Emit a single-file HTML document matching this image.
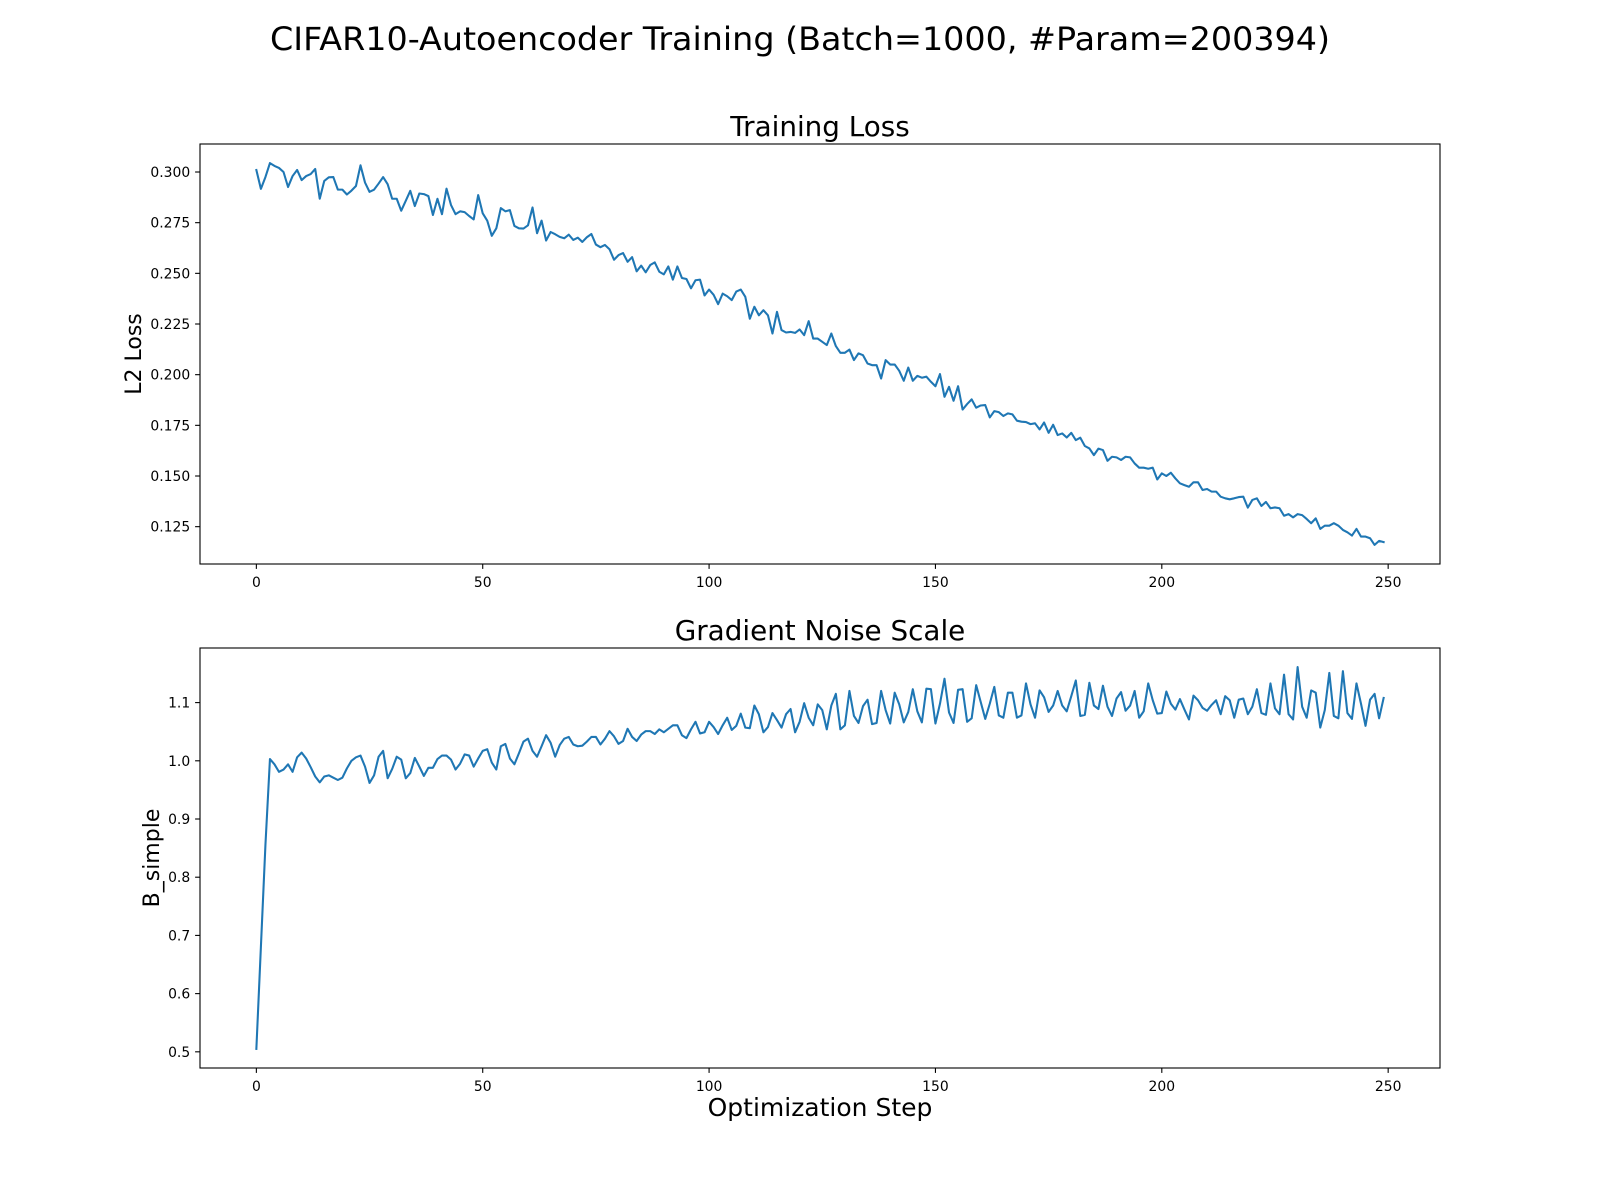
<!DOCTYPE html>
<html><head><meta charset="utf-8"><style>
html,body{margin:0;padding:0;background:#fff}
svg{display:block;font-family:"DejaVu Sans","Liberation Sans",sans-serif}
</style></head><body>
<svg id="fig" width="1600" height="1200" viewBox="0 0 1600 1200" xmlns="http://www.w3.org/2000/svg">
<rect width="1600" height="1200" fill="#fff"/>
<text x="800" y="50" font-size="32" text-anchor="middle" textLength="1060" lengthAdjust="spacingAndGlyphs">CIFAR10-Autoencoder Training (Batch=1000, #Param=200394)</text>
<g id="ax1"></g>
<g id="ax2"></g>
</svg>
<script>
const lossValues=[0.301,0.2917,0.2975,0.3044,0.303,0.302,0.300,0.2926,0.298,0.301,
0.296,0.298,0.299,0.3015,0.2868,0.2956,0.2974,0.2975,0.2913,0.2913,
0.2889,0.2908,0.2931,0.3033,0.2948,0.2902,0.2913,0.2943,0.2975,0.294,
0.2868,0.2868,0.2809,0.2858,0.2907,0.2832,0.2894,0.2891,0.2881,0.2788,
0.2868,0.2792,0.2918,0.2837,0.2792,0.2806,0.2802,0.2783,0.2766,0.2886,
0.2796,0.276,0.2685,0.2722,0.2822,0.2806,0.2812,0.2734,0.2722,0.2721,
0.2737,0.2825,0.2698,0.276,0.2662,0.2704,0.2693,0.268,0.2673,0.2691,
0.2665,0.2676,0.2655,0.2678,0.2694,0.2642,0.2629,0.264,0.2619,0.2567,
0.259,0.26,0.2557,0.258,0.251,0.2538,0.2505,0.2541,0.2554,0.2508,
0.2495,0.2534,0.2469,0.2534,0.2477,0.2472,0.2426,0.2466,0.2469,0.2391,
0.242,0.2394,0.2348,0.24,0.2387,0.2368,0.241,0.242,0.2384,0.2276,
0.2335,0.2293,0.2318,0.2293,0.2203,0.2310,0.2220,0.2208,0.2211,
0.2206,0.2223,0.2195,0.2264,0.2178,0.2178,0.2162,0.2146,0.2203,0.2141,
0.2108,0.2108,0.2124,0.2072,0.2105,0.2096,0.2055,0.2047,0.2047,0.1981,
0.2072,0.2050,0.2050,0.2019,0.1970,0.2035,0.1970,0.1994,0.1985,0.1990,
0.1965,0.1943,0.2003,0.1891,0.1940,0.1871,0.1943,0.1828,0.1855,0.1878,
0.1837,0.1848,0.1850,0.1789,0.1820,0.1815,0.1796,0.1809,0.1804,0.1773,
0.1768,0.1766,0.1756,0.1760,0.1730,0.1764,0.1713,0.1753,0.1702,0.1710,
0.1690,0.1713,0.1677,0.1689,0.1648,0.1636,0.1603,0.1635,0.1628,0.1575,
0.1595,0.1592,0.1579,0.1595,0.1592,0.1562,0.1541,0.1541,0.1536,0.1541,
0.1483,0.1513,0.1500,0.1516,0.1488,0.1464,0.1455,0.1447,0.1469,0.1469,
0.1431,0.1436,0.1423,0.1423,0.1398,0.1390,0.1385,0.1390,0.1396,0.1398,
0.1344,0.1382,0.1390,0.1352,0.1372,0.1341,0.1345,0.1341,0.1304,
0.1312,0.1296,0.1312,0.1307,0.1288,0.1267,0.1291,0.1239,0.1255,0.1255,
0.1267,0.1255,0.1234,0.1222,0.1206,0.1239,0.1201,0.1201,0.1193,0.1160,
0.1180,0.1174];
const bValues=[0.505,0.68,0.855,1.003,0.994,0.981,0.985,0.994,0.981,1.006,
1.014,1.004,0.989,0.973,0.963,0.973,0.975,0.971,0.967,0.971,
0.987,1.0,1.006,1.009,0.990,0.962,0.975,1.007,1.017,0.970,
0.986,1.007,1.002,0.970,0.979,1.005,0.990,0.974,0.988,0.988,
1.003,1.009,1.009,1.002,0.985,0.995,1.011,1.009,0.990,1.004,
1.017,1.020,0.997,0.985,1.025,1.029,1.004,0.994,1.013,1.033,
1.038,1.017,1.007,1.025,1.044,1.031,1.007,1.027,1.038,1.041,
1.028,1.025,1.026,1.033,1.041,1.041,1.028,1.038,1.051,1.042,
1.029,1.034,1.055,1.041,1.034,1.045,1.051,1.051,1.046,1.054,
1.049,1.055,1.061,1.061,1.044,1.039,1.054,1.067,1.047,1.049,
1.067,1.058,1.046,1.061,1.074,1.053,1.060,1.081,1.057,1.056,
1.095,1.080,1.049,1.058,1.082,1.070,1.057,1.080,1.089,1.049,
1.067,1.099,1.074,1.061,1.097,1.087,1.054,1.095,1.115,1.054,
1.061,1.120,1.077,1.065,1.094,1.105,1.063,1.065,1.120,1.087,
1.064,1.117,1.097,1.066,1.084,1.123,1.085,1.066,1.124,1.123,
1.064,1.098,1.141,1.083,1.065,1.122,1.123,1.067,1.073,1.130,
1.101,1.072,1.098,1.127,1.078,1.074,1.117,1.117,1.074,1.078,
1.133,1.097,1.074,1.121,1.109,1.084,1.095,1.120,1.095,1.085,
1.111,1.138,1.077,1.079,1.134,1.095,1.089,1.129,1.093,1.077,
1.107,1.118,1.086,1.095,1.120,1.074,1.085,1.133,1.104,1.081,
1.082,1.119,1.098,1.088,1.106,1.088,1.071,1.112,1.104,1.091,
1.086,1.096,1.104,1.080,1.111,1.104,1.074,1.105,1.107,1.080,
1.093,1.123,1.082,1.079,1.133,1.090,1.080,1.148,1.080,1.071,
1.161,1.093,1.074,1.121,1.117,1.057,1.087,1.151,1.077,1.073,
1.154,1.082,1.072,1.133,1.098,1.060,1.105,1.115,1.073,1.108];
const xTicks=[0,50,100,150,200,250];
const lossTicks=[0.125,0.150,0.175,0.200,0.225,0.250,0.275,0.300];
const lossTickLabels=["0.125","0.150","0.175","0.200","0.225","0.250","0.275","0.300"];
const bTicks=[0.5,0.6,0.7,0.8,0.9,1.0,1.1];
const bTickLabels=["0.5","0.6","0.7","0.8","0.9","1.0","1.1"];

const NS="http://www.w3.org/2000/svg";
function mk(tag,attrs,parent){const e=document.createElementNS(NS,tag);for(const k in attrs)e.setAttribute(k,attrs[k]);parent.appendChild(e);return e;}

function drawAxes(g,opt){
  const L=200,R=1440,T=opt.top,B=opt.top+420;
  const n=opt.values.length;
  const xmin=-0.05*(n-1),xmax=(n-1)*1.05;
  let vmin=Math.min(...opt.values),vmax=Math.max(...opt.values);
  const pad=(vmax-vmin)*0.05;const ymin=vmin-pad,ymax=vmax+pad;
  const xs=v=>L+(v-xmin)/(xmax-xmin)*(R-L);
  const ys=v=>B-(v-ymin)/(ymax-ymin)*(B-T);
  let d="";opt.values.forEach((v,i)=>{d+=(i?"L":"M")+xs(i).toFixed(2)+","+ys(v).toFixed(2);});
  const p=mk("path",{d:d,fill:"none",stroke:"#1f77b4","stroke-width":"2.08","stroke-linejoin":"round","stroke-linecap":"square"},g);
  
  
  const fr=mk("rect",{x:L,y:T,width:R-L,height:B-T,fill:"none",stroke:"#000","stroke-width":"1.1"},g);
  
  
  xTicks.forEach(t=>{
    const x=xs(t);
    const tk=mk("line",{x1:x,x2:x,y1:B,y2:B+4.9,stroke:"#000","stroke-width":"1.1"},g);
    
    
    const tx=mk("text",{x:x,y:B+23,"font-size":"13.9","text-anchor":"middle"},g);
    tx.textContent=String(t);
    
    
  });
  opt.yTicks.forEach((t,i)=>{
    const y=ys(t);
    const tk=mk("line",{x1:L-4.9,x2:L,y1:y,y2:y,stroke:"#000","stroke-width":"1.1"},g);
    
    
    const tx=mk("text",{x:L-9.8,y:y+5,"font-size":"13.9","text-anchor":"end"},g);
    tx.textContent=opt.yLabels[i];
    
    
  });
  const ti=mk("text",{x:(L+R)/2,y:T-8,"font-size":"27.8","text-anchor":"middle"},g);
  ti.textContent=opt.title;
  
  
  const yl=mk("text",{x:0,y:0,"font-size":"22","text-anchor":"middle",transform:`translate(${opt.ylabX},${(T+B)/2}) rotate(-90)`},g);
  yl.textContent=opt.ylabel;
  
  
  if(opt.xlabel){
    const xl=mk("text",{x:(L+R)/2,y:B+48,"font-size":"25","text-anchor":"middle"},g);
    xl.textContent=opt.xlabel;
    
    
  }
}
drawAxes(document.getElementById("ax1"),{top:144,values:lossValues,yTicks:lossTicks,yLabels:lossTickLabels,title:"Training Loss",ylabel:"L2 Loss",ylabX:141,series:"training-loss-line"});
drawAxes(document.getElementById("ax2"),{top:648,values:bValues,yTicks:bTicks,yLabels:bTickLabels,title:"Gradient Noise Scale",ylabel:"B_simple",ylabX:159,xlabel:"Optimization Step",series:"b-simple-line"});
</script>
</body></html>
